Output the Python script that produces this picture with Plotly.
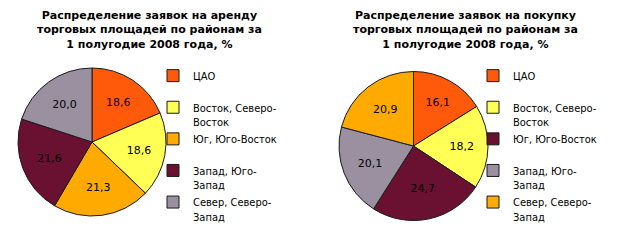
import plotly.graph_objects as go

categories = ["ЦАО", "Восток, Северо-<br>Восток", "Юг, Юго-Восток", "Запад, Юго-<br>Запад", "Север, Северо-<br>Запад"]
rent_values = [18.6, 18.6, 21.3, 21.6, 20.0]
buy_values = [16.1, 18.2, 24.7, 20.1, 20.9]

rent_colors = ["#FF5A0A", "#FFFF55", "#FFAA00", "#6A1030", "#9A90A0"]
buy_colors = ["#FF5A0A", "#FFFF55", "#6A1030", "#9A90A0", "#FFAA00"]

title_rent = "Распределение заявок на аренду<br>торговых площадей по районам за<br>1 полугодие 2008 года, %"
title_buy = "Распределение заявок на покупку<br>торговых площадей по районам за<br>1 полугодие 2008 года, %"

W, H = 623, 243
FONT = "DejaVu Sans"
LEG_FONT = "DejaVu Sans Condensed, DejaVu Sans"


def fmt(v):
    return f"{v:.1f}".replace(".", ",")


def legend_labels(cats, suffix=""):
    out = []
    for c in cats:
        out.append((c if "<br>" in c else c + "<br> ") + suffix)
    return out


fig = go.Figure()
fig.add_trace(go.Pie(
    labels=legend_labels(categories), values=rent_values, sort=False, direction="clockwise", rotation=0,
    text=[fmt(v) for v in rent_values], textinfo="text", textposition="inside", insidetextorientation="horizontal",
    textfont=dict(family=FONT, size=11, color="black"),
    marker=dict(colors=rent_colors, line=dict(color="#1a1a1a", width=1)),
    domain=dict(x=[18 / W, 166 / W], y=[27 / H, 175 / H]),
    legend="legend", hoverinfo="label+value",
))
fig.add_trace(go.Pie(
    labels=legend_labels(categories, "\u200b"), values=buy_values, sort=False, direction="clockwise", rotation=0,
    text=[fmt(v) for v in buy_values], textinfo="text", textposition="inside", insidetextorientation="horizontal",
    textfont=dict(family=FONT, size=11, color="black"),
    marker=dict(colors=buy_colors, line=dict(color="#1a1a1a", width=1)),
    domain=dict(x=[339 / W, 488 / W], y=[22 / H, 172 / H]),
    legend="legend2", hoverinfo="label+value",
))

leg_common = dict(font=dict(family=LEG_FONT, size=11, color="black"), bgcolor="rgba(0,0,0,0)",
                  valign="top", xanchor="left", yanchor="top", itemclick=False, itemdoubleclick=False)
fig.update_layout(
    width=W, height=H, margin=dict(l=0, r=0, t=0, b=0),
    paper_bgcolor="white", plot_bgcolor="white", showlegend=True,
    legend=dict(x=153 / W, y=1 - 62 / H, **leg_common),
    legend2=dict(x=473 / W, y=1 - 62 / H, **leg_common),
    annotations=[
        dict(text=title_rent, x=149 / W, y=1 - 7 / H, xref="paper", yref="paper", xanchor="center", yanchor="top",
             showarrow=False, font=dict(family=FONT, size=11, color="black"), align="center"),
        dict(text=title_buy, x=465 / W, y=1 - 7 / H, xref="paper", yref="paper", xanchor="center", yanchor="top",
             showarrow=False, font=dict(family=FONT, size=11, color="black"), align="center"),
    ],
)
# make titles bold
for a in fig.layout.annotations:
    a.text = "<b>" + a.text.replace("<br>", "</b><br><b>") + "</b>"

fig.write_html("out.html")
